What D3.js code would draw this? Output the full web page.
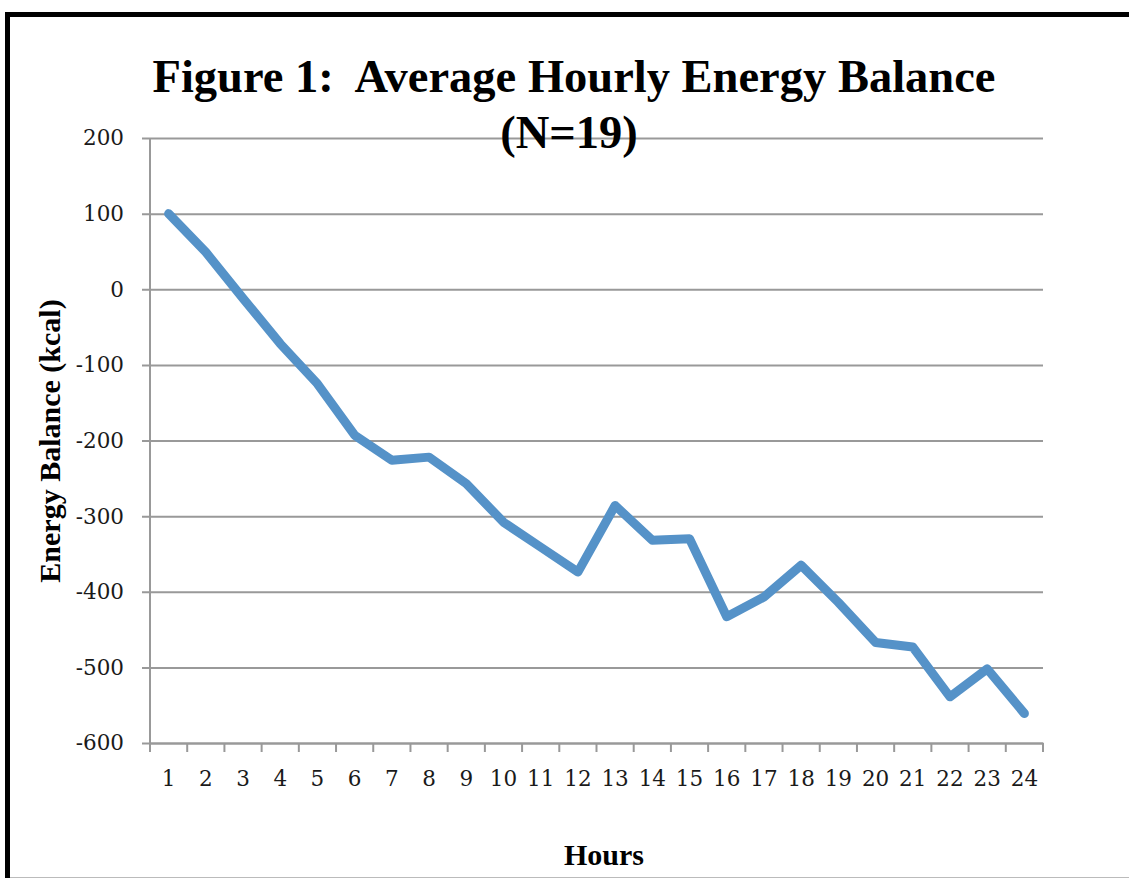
<!DOCTYPE html>
<html>
<head>
<meta charset="utf-8">
<script src="https://cdn.jsdelivr.net/npm/d3@7"></script>
<style>
  body { margin: 0; background: #fff; }
  svg text { font-family: "Liberation Serif", "Times New Roman", serif; }
</style>
</head>
<body>
<div id="chart"></div>
<script>
// hours on the x axis
const hours = d3.range(1, 25).map(String);
// average energy balance (kcal) per hour
const balance = [100, 49, -12, -72, -125, -193, -226, -222, -257, -308, -341, -374,
                 -286, -332, -330, -433, -407, -365, -414, -467, -473, -539, -502, -561];
const yTicks = [200, 100, 0, -100, -200, -300, -400, -500, -600];

const width = 1129, height = 878;
const margin = {top: 138, right: 86, bottom: 135, left: 150};
const tickFont = '"DejaVu Serif", serif';

const svg = d3.select('#chart').append('svg')
    .attr('width', width)
    .attr('height', height);

// outer frame
svg.append('line').attr('x1', 7.5).attr('x2', 7.5).attr('y1', 12).attr('y2', height)
    .attr('stroke', '#000').attr('stroke-width', 5);
svg.append('line').attr('x1', 5).attr('x2', width).attr('y1', 14.5).attr('y2', 14.5)
    .attr('stroke', '#000').attr('stroke-width', 5);
svg.append('line').attr('x1', 10).attr('x2', width).attr('y1', 877.5).attr('y2', 877.5)
    .attr('stroke', '#bbb').attr('stroke-width', 1);

const innerW = width - margin.left - margin.right;
const innerH = height - margin.top - margin.bottom;

const x = d3.scaleBand().domain(hours).range([0, innerW]);
const y = d3.scaleLinear().domain([-600, 200]).range([innerH, 0]);

const g = svg.append('g').attr('transform', `translate(${margin.left},${margin.top})`);

// gridlines + y axis
const yAxis = g.append('g')
    .call(d3.axisLeft(y).tickValues(yTicks).tickFormat(d => String(d))
      .tickSize(-innerW).tickSizeOuter(0).tickPadding(26));
yAxis.select('.domain').remove();
yAxis.selectAll('.tick line').attr('stroke', '#999').attr('stroke-width', 2).attr('x1', -8);
yAxis.selectAll('.tick text').style('font-size', '21.5px').attr('fill', '#1a1a1a')
    .style('font-family', tickFont);

g.append('line').attr('x1', 0).attr('x2', 0).attr('y1', 0).attr('y2', innerH)
    .attr('stroke', '#999').attr('stroke-width', 2);

// x axis with ticks at band boundaries
const xAxis = g.append('g').attr('transform', `translate(0,${innerH})`)
    .call(d3.axisBottom(x).tickSize(0).tickPadding(28));
xAxis.select('.domain').attr('stroke', '#999').attr('stroke-width', 2);
xAxis.selectAll('.tick text').style('font-size', '21.5px').attr('fill', '#1a1a1a')
    .style('font-family', tickFont);
const bounds = hours.map(h => x(h)).concat([innerW]);
g.append('g').selectAll('line').data(bounds).join('line')
    .attr('x1', d => d).attr('x2', d => d)
    .attr('y1', innerH).attr('y2', innerH + 9)
    .attr('stroke', '#999').attr('stroke-width', 2);

// series line
const line = d3.line()
    .x((d, i) => x(hours[i]) + x.bandwidth() / 2)
    .y(d => y(d));
g.append('path').datum(balance)
    .attr('d', line)
    .attr('fill', 'none')
    .attr('stroke', '#5592c8')
    .attr('stroke-width', 9)
    .attr('stroke-linejoin', 'round')
    .attr('stroke-linecap', 'round');

// title
svg.append('text').attr('x', 574).attr('y', 92)
    .attr('text-anchor', 'middle').attr('font-size', 46.5).attr('font-weight', 'bold')
    .attr('xml:space', 'preserve')
    .text('Figure 1:  Average Hourly Energy Balance');
svg.append('text').attr('x', 569).attr('y', 148)
    .attr('text-anchor', 'middle').attr('font-size', 46.5).attr('font-weight', 'bold')
    .text('(N=19)');

// axis titles
svg.append('text')
    .attr('transform', `translate(60,${margin.top + 303}) rotate(-90)`)
    .attr('text-anchor', 'middle').attr('font-size', 30).attr('font-weight', 'bold')
    .text('Energy Balance (kcal)');
svg.append('text').attr('x', 604).attr('y', 865)
    .attr('text-anchor', 'middle').attr('font-size', 30).attr('font-weight', 'bold')
    .text('Hours');
</script>
</body>
</html>
